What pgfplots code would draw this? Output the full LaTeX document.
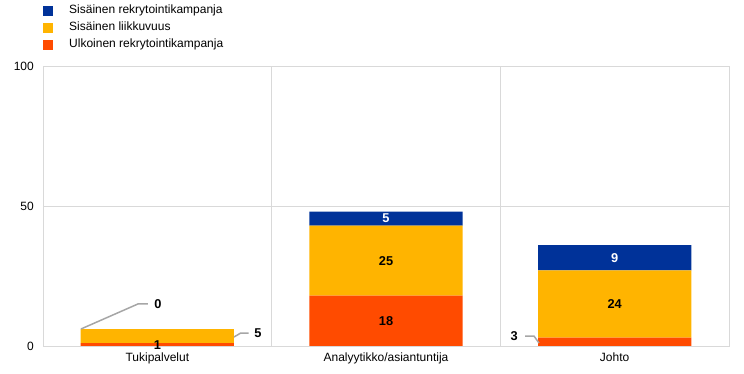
\documentclass[border=0pt]{standalone}
\usepackage{fontspec}
\setmainfont{Liberation Sans}
\usepackage{pgfplots}
\pgfplotsset{compat=1.18}
\definecolor{cblue}{HTML}{003299}
\definecolor{cyellow}{HTML}{FFB400}
\definecolor{corange}{HTML}{FF4B00}
\definecolor{gridc}{HTML}{D9D9D9}
\definecolor{leadc}{HTML}{A6A6A6}
\pgfplotsset{sqlegend/.style={legend image code/.code={\fill[##1] (0pt,-5pt) rectangle (10pt,5pt);}}}
\tikzset{lab/.style={font=\fontsize{12.8pt}{14pt}\selectfont\bfseries}}
\begin{document}
\fontsize{12pt}{14pt}\selectfont
\begin{tikzpicture}
\useasboundingbox (0,0) rectangle (744pt,374pt);
\begin{axis}[
  at={(43pt,28pt)}, anchor=south west,
  scale only axis, width=686pt, height=280pt,
  ybar stacked, bar width=0.67,
  xmin=-0.5, xmax=2.5, ymin=0, ymax=100,
  xtick={0,1,2}, xticklabels={Tukipalvelut,Analyytikko/asiantuntija,Johto},
  ytick={0,50,100},
  minor xtick={-0.5,0.5,1.5,2.5}, xminorgrids, ymajorgrids,
  major tick length=0pt, minor tick length=0pt,
  axis line style={gridc, line width=0.75pt},
  grid style={gridc, line width=0.75pt},
  minor grid style={gridc, line width=0.75pt},
  tick label style={font=\fontsize{12pt}{14pt}\selectfont},
  /pgf/number format/assume math mode=true,
  yticklabel style={xshift=-5pt},
  xticklabel style={yshift=-3pt},
  reverse legend,
  legend style={at={(axis description cs:0,1.226)}, anchor=north west,
    draw=none, fill=none, inner sep=0pt, column sep=14pt, row sep=1pt,
    font=\fontsize{12pt}{14pt}\selectfont,
    nodes={inner ysep=2pt, text height=9pt, text depth=3pt}},
  legend cell align=left,
]
\addplot[fill=corange, draw=none, sqlegend]
  coordinates {(0,1) (1,18) (2,3)};
\addplot[fill=cyellow, draw=none, sqlegend]
  coordinates {(0,5) (1,25) (2,24)};
\addplot[fill=cblue, draw=none, sqlegend]
  coordinates {(0,0) (1,5) (2,9)};
\legend{Ulkoinen rekrytointikampanja,Sisäinen liikkuvuus,Sisäinen rekrytointikampanja}
\coordinate (v1) at (axis cs:0,0.3);
\coordinate (v18) at (axis cs:1,9);
\coordinate (v25) at (axis cs:1,30.5);
\coordinate (v5b) at (axis cs:1,45.5);
\coordinate (v24) at (axis cs:2,15);
\coordinate (v9) at (axis cs:2,31.5);
\coordinate (a1) at (axis cs:-0.334,6.07);
\coordinate (a2) at (axis cs:-0.085,15);
\coordinate (a3) at (axis cs:-0.041,15);
\coordinate (a0) at (axis cs:0.003,15);
\coordinate (b1) at (axis cs:0.335,3.2);
\coordinate (b2) at (axis cs:0.364,4.6);
\coordinate (b3) at (axis cs:0.399,4.6);
\coordinate (b0) at (axis cs:0.44,4.6);
\coordinate (c1) at (axis cs:1.608,3.57);
\coordinate (c2) at (axis cs:1.647,3.57);
\coordinate (c3) at (axis cs:1.669,1.07);
\coordinate (c0) at (axis cs:1.56,3.4);
\end{axis}
\node[lab] at (v1) {1};
\node[lab] at (v18) {18};
\node[lab] at (v25) {25};
\node[lab, text=white] at (v5b) {5};
\node[lab] at (v24) {24};
\node[lab, text=white] at (v9) {9};
\draw[leadc, line width=1.5pt] (a1) -- (a2) -- (a3);
\node[lab] at (a0) {0};
\draw[leadc, line width=1.5pt] (b1) -- (b2) -- (b3);
\node[lab] at (b0) {5};
\draw[leadc, line width=1.5pt] (c1) -- (c2) -- (c3);
\node[lab] at (c0) {3};
\end{tikzpicture}
\end{document}
